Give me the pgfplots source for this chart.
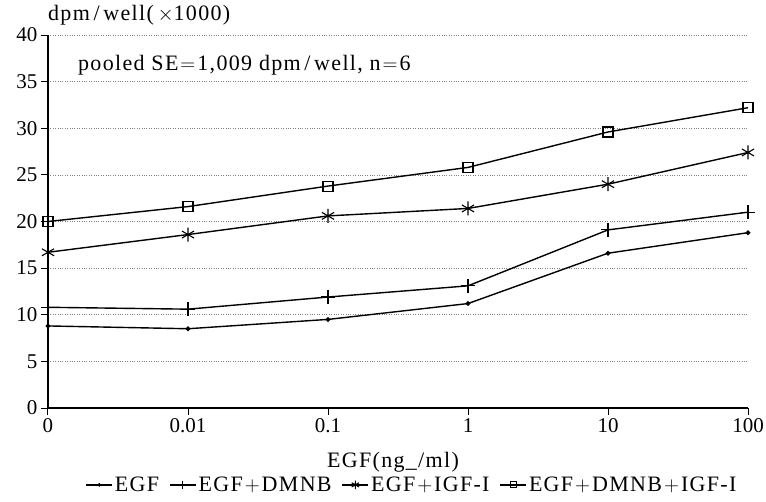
\documentclass[border=0pt]{standalone}
\usepackage{fontspec}
\setmainfont{Liberation Serif}
\newfontfamily\widefont[LetterSpace=6]{Liberation Serif}
\usepackage{pgfplots}
\pgfplotsset{compat=1.18}
\newcommand{\pl}{\kern2pt$+$\kern2pt}
\newcommand{\eq}{\kern2pt$=$\kern2pt}
\begin{document}
\begin{tikzpicture}
\begin{axis}[
    scale only axis,
    width=700pt, height=373pt,
    xmin=0, xmax=5,
    ymin=0, ymax=40,
    axis lines=left,
    axis line style={line width=1.2pt, -},
    xtick={0,1,2,3,4,5},
    xticklabels={0,0.01,0.1,1,10,100},
    ytick={0,5,...,40},
    tick align=outside,
    major tick length=7pt,
    tick style={line width=1pt, black},
    ymajorgrids,
    grid style={dotted, gray, line width=0.7pt},
    /pgf/number format/assume math mode=true,
    tick label style={font=\fontsize{21}{23}\selectfont},
    clip=false,
    legend columns=4,
    legend style={draw=none, fill=none, at={(0.52,-0.206)}, anchor=center,
        font=\widefont\fontsize{22}{24}\selectfont,
        /tikz/every even column/.append style={column sep=8pt},
        inner sep=0pt},
    legend image code/.code={
        \draw[mark repeat=2, mark phase=2, #1, every mark/.append style={scale=0.6}]
            plot coordinates {(0pt,0pt) (13pt,0pt) (26pt,0pt)};},
]
\addplot[black, line width=1.4pt, mark=*, mark size=1.6pt] coordinates {
    (0,8.8) (1,8.5) (2,9.5) (3,11.2) (4,16.6) (5,18.8)
};
\addlegendentry{EGF}
\addplot[black, line width=1.4pt, mark=+, mark size=7pt, mark options={line width=1.1pt}] coordinates {
    (0,10.8) (1,10.6) (2,11.9) (3,13.1) (4,19.1) (5,21.0)
};
\addlegendentry{EGF\pl DMNB}
\addplot[black, line width=1.4pt, mark=asterisk, mark size=7pt, mark options={line width=1.1pt}] coordinates {
    (0,16.7) (1,18.6) (2,20.6) (3,21.4) (4,24.0) (5,27.4)
};
\addlegendentry{EGF\pl IGF-I}
\addplot[black, line width=1.4pt, mark=square, mark size=5pt, mark options={line width=1.1pt}] coordinates {
    (0,20.0) (1,21.6) (2,23.8) (3,25.8) (4,29.6) (5,32.2)
};
\addlegendentry{EGF\pl DMNB\pl IGF-I}
\end{axis}
\node[anchor=west, font=\widefont\fontsize{22}{24}\selectfont, inner sep=0pt]
    at (0pt,393pt) {dpm\,/\,well(\,$\times$1000)};
\node[anchor=west, font=\widefont\fontsize{22}{24}\selectfont, inner sep=0pt]
    at (30pt,343pt) {pooled SE\eq 1,009 dpm\,/\,well, n\eq 6};
\node[font=\widefont\fontsize{22}{24}\selectfont, inner sep=0pt]
    at (345pt,-54pt) {EGF(ng\_/ml)};
\pgfresetboundingbox
\path (-48pt,-93pt) rectangle (718pt,408pt);
\end{tikzpicture}
\end{document}
